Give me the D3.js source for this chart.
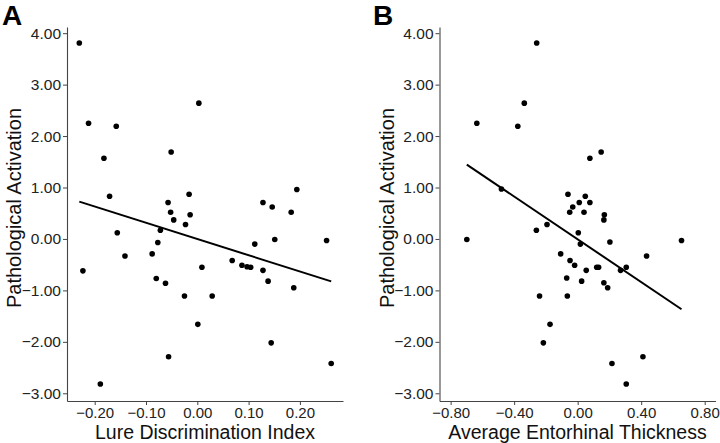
<!DOCTYPE html>
<html><head><meta charset="utf-8">
<script src="https://cdn.jsdelivr.net/npm/d3@7"></script>
<style>html,body{margin:0;padding:0;background:#fff}svg{display:block}</style>
</head><body><svg id="c" width="720" height="443"></svg>
<script>
// Panel A: Lure Discrimination Index vs Pathological Activation
const lureX = [-0.230,-0.212,-0.158,-0.182,-0.171,0.003,-0.051,-0.057,-0.052,-0.046,-0.016,-0.014,-0.023,-0.156,-0.072,-0.077,-0.088,-0.141,-0.223,-0.080,-0.062,-0.056,-0.189,-0.025,0.029,0.001,0.009,0.068,0.087,0.097,0.104,0.128,0.138,0.188,0.144,0.261,0.112,0.151,0.252,0.128,0.146,0.183,0.194];
const lureY = [3.81,2.25,2.19,1.57,0.83,2.64,1.69,0.71,0.52,0.37,0.87,0.47,0.28,0.12,0.17,-0.07,-0.29,-0.33,-0.62,-0.77,-0.86,-2.29,-2.82,-1.11,-1.11,-1.66,-0.55,-0.42,-0.51,-0.54,-0.55,-0.61,-0.82,-0.95,-2.02,-2.42,-0.10,-0.01,-0.03,0.71,0.62,0.52,0.96];
// Panel B: Average Entorhinal Thickness vs Pathological Activation
const thickX = [-0.258,-0.336,-0.635,-0.377,-0.480,0.077,0.148,-0.061,0.048,0.010,0.077,-0.031,-0.050,0.040,0.168,0.165,-0.193,-0.260,0.004,0.017,0.203,0.654,-0.698,-0.107,0.434,-0.048,-0.019,0.054,0.120,0.132,0.270,0.306,-0.069,0.025,0.165,0.189,-0.240,-0.065,-0.174,-0.216,0.216,0.411,0.306];
const thickY = [3.81,2.64,2.25,2.19,0.97,1.57,1.69,0.87,0.83,0.71,0.71,0.62,0.52,0.52,0.47,0.37,0.28,0.17,0.12,-0.10,-0.06,-0.03,-0.01,-0.29,-0.33,-0.42,-0.51,-0.61,-0.55,-0.55,-0.61,-0.55,-0.76,-0.82,-0.85,-0.95,-1.11,-1.11,-1.66,-2.02,-2.42,-2.29,-2.82];
const yTicks = [-3,-2,-1,0,1,2,3,4];
const lureTicks = [-0.2,-0.1,0,0.1,0.2];
const thickTicks = [-0.8,-0.4,0,0.4,0.8];

const svg = d3.select("#c");
const FONT = "'Liberation Sans', Arial, Helvetica, sans-serif";

function fit(xs, ys){
  const mx = d3.mean(xs), my = d3.mean(ys);
  let sxy=0, sxx=0;
  xs.forEach((x,i)=>{sxy+=(x-mx)*(ys[i]-my); sxx+=(x-mx)*(x-mx);});
  const b = sxy/sxx; return {a: my-b*mx, b};
}

function panel(o){
  const g = svg.append("g");
  const x = d3.scaleLinear().domain(o.xdom).range([o.left, o.right]);
  const y = d3.scaleLinear().domain([-3.15, 4.12]).range([401, 27]);
  const xa = g.append("g").attr("transform", `translate(0,401)`)
    .call(d3.axisBottom(x).tickValues(o.ticks).tickSize(4).tickPadding(2).tickFormat(d3.format(".2f")).tickSizeOuter(0));
  const ya = g.append("g").attr("transform", `translate(${o.left},0)`)
    .call(d3.axisLeft(y).tickValues(yTicks).tickSize(4).tickPadding(2).tickFormat(d3.format(".2f")).tickSizeOuter(0));
  [xa, ya].forEach(a=>{
    a.select(".domain").attr("stroke","#444").attr("stroke-width",1.1);
    a.selectAll(".tick line").attr("stroke","#444");
    a.selectAll(".tick text").attr("fill","#222").style("font-family",FONT).style("font-size","15px");
  });
  ya.selectAll(".tick text").style("font-size","15.5px");
  xa.selectAll(".tick text").attr("dy","0.71em");
  g.append("g").selectAll("circle").data(o.xs.map((v,i)=>[v,o.ys[i]])).join("circle")
    .attr("cx",d=>x(d[0])).attr("cy",d=>y(d[1])).attr("r",2.8).attr("fill","#000");
  const f = fit(o.xs, o.ys);
  const ext = d3.extent(o.xs);
  g.append("line").attr("x1",x(ext[0])).attr("y1",y(f.a+f.b*ext[0]))
    .attr("x2",x(ext[1])).attr("y2",y(f.a+f.b*ext[1]))
    .attr("stroke","#000").attr("stroke-width",2);
  g.append("text").attr("x",(o.left+o.right)/2).attr("y",439).attr("text-anchor","middle")
    .style("font-family",FONT).style("font-size","19.5px").attr("fill","#111").text(o.xlab);
  g.append("text").attr("transform",`translate(${o.left-46},208) rotate(-90)`).attr("text-anchor","middle")
    .style("font-family",FONT).style("font-size","20px").attr("fill","#111").text("Pathological Activation");
  g.append("text").attr("x",o.letterX).attr("y",25).style("font-family",FONT).style("font-weight","bold")
    .style("font-size","28px").attr("fill","#000").text(o.letter);
}

panel({xs:lureX, ys:lureY, xdom:[-0.254,0.284], left:67, right:343, ticks:lureTicks,
  xlab:"Lure Discrimination Index", letter:"A", letterX:2});
panel({xs:thickX, ys:thickY, xdom:[-0.87,0.868], left:439.5, right:715.5, ticks:thickTicks,
  xlab:"Average Entorhinal Thickness", letter:"B", letterX:373});
</script></body></html>
